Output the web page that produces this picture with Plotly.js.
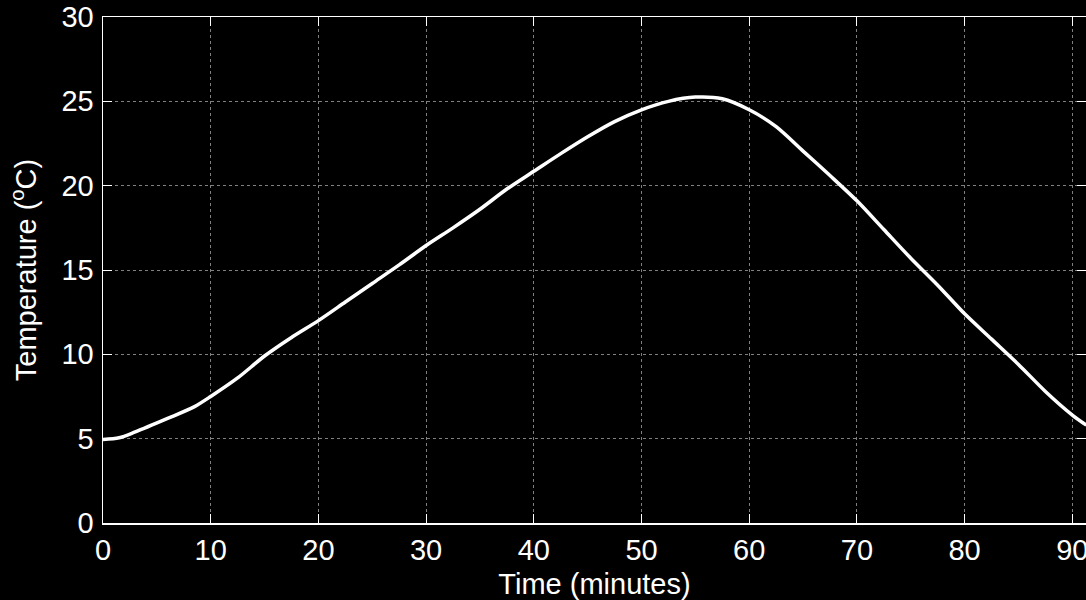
<!DOCTYPE html>
<html>
<head>
<meta charset="utf-8">
<script src="https://cdn.plot.ly/plotly-3.0.1.min.js"></script>
<style>html,body{margin:0;padding:0;background:#000;}</style>
</head>
<body>
<div id="chart" style="width:1086px;height:600px;"></div>
<script>
const timeMinutes = [0, 1.5, 3, 6, 8.5, 10, 12.5, 15, 17.5, 20, 22.5, 25, 27.5, 30, 32.5, 35, 37.5, 40, 42.5, 45, 47.5, 50, 52.5, 55, 57.5, 60, 62.5, 65, 67.5, 70, 72.5, 75, 77.5, 80, 82.5, 85, 87.5, 90, 91.3];
const temperatureC = [4.95, 5.05, 5.4, 6.2, 6.9, 7.5, 8.6, 9.9, 11.0, 12.0, 13.1, 14.2, 15.3, 16.45, 17.5, 18.6, 19.8, 20.85, 21.9, 22.9, 23.8, 24.5, 25.0, 25.25, 25.15, 24.5, 23.5, 22.05, 20.6, 19.1, 17.4, 15.7, 14.1, 12.4, 10.9, 9.4, 7.8, 6.4, 5.8];
const xTicks = [0, 10, 20, 30, 40, 50, 60, 70, 80, 90];
const yTicks = [0, 5, 10, 15, 20, 25, 30];

const fontFam = '"Liberation Sans", Arial, Helvetica, sans-serif';
const axisCommon = {
  showline: true, linecolor: '#ffffff', linewidth: 1.5, mirror: 'ticks',
  ticks: 'inside', ticklen: 9, tickcolor: '#ffffff', tickwidth: 1,
  showgrid: true, gridcolor: 'rgba(255,255,255,0.5)', griddash: 'dot', gridwidth: 1,
  zeroline: false, tickfont: {family: fontFam, size: 29, color: '#ffffff'},
  automargin: false, fixedrange: true, ticklabeloverflow: 'allow'
};

const data = [{
  x: timeMinutes, y: temperatureC, type: 'scatter', mode: 'lines',
  line: {color: '#ffffff', width: 3.5, shape: 'spline', smoothing: 0.8},
  hoverinfo: 'skip', cliponaxis: true
}];

const layout = {
  width: 1086, height: 600,
  paper_bgcolor: '#000000', plot_bgcolor: '#000000',
  margin: {l: 103, r: 0, t: 17, b: 77},
  showlegend: false,
  xaxis: Object.assign({}, axisCommon, {
    range: [0, 91.27], tickvals: xTicks, ticktext: xTicks.map(String),
    ticklabelstandoff: 1,
    title: {text: 'Time (minutes)', font: {family: fontFam, size: 29, color: '#ffffff'}, standoff: 8}
  }),
  yaxis: Object.assign({}, axisCommon, {
    range: [0, 30], tickvals: yTicks, ticktext: yTicks.map(String),
    ticklabelstandoff: 2,
    title: {text: 'Temperature (<sup>o</sup>C)', font: {family: fontFam, size: 29, color: '#ffffff'}, standoff: 16}
  })
};

Plotly.newPlot('chart', data, layout, {displayModeBar: false, staticPlot: true});
</script>
</body>
</html>
